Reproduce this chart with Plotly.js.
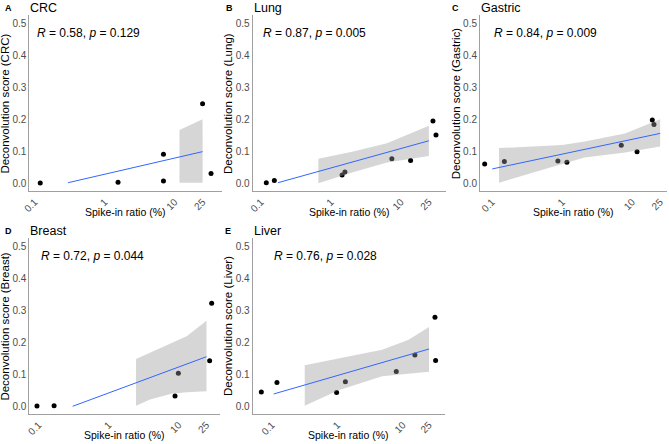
<!DOCTYPE html>
<html>
<head>
<meta charset="utf-8">
<script src="https://cdn.plot.ly/plotly-3.0.1.min.js"></script>
<style>
  html, body { margin: 0; padding: 0; background: #fff; }
  #chart { width: 669px; height: 444px; }
</style>
</head>
<body>
<div id="chart"></div>
<script>
// Spike-in ratio (%) vs deconvolution score, per cancer type
const cancerTypes = ['CRC', 'Lung', 'Gastric', 'Breast', 'Liver'];
const panelLetters = ['A', 'B', 'C', 'D', 'E'];
const statR = ['0.58', '0.87', '0.84', '0.72', '0.76'];
const statP = ['0.129', '0.005', '0.009', '0.044', '0.028'];

const crcX = [0.12, 1.55, 6.9, 6.9, 25, 33];
const crcY = [0.001, 0.003, 0.091, 0.007, 0.249, 0.031];
const crcFitX = [0.3, 25];
const crcFitY = [0.002, 0.099];
const crcBandX = [11.7, 25];
const crcBandHi = [0.167, 0.200];
const crcBandLo = [0.002, 0.002];

const lungX = [0.119, 0.155, 1.44, 1.58, 7.4, 13.7, 28.6, 31.6];
const lungY = [0.002, 0.009, 0.026, 0.035, 0.077, 0.071, 0.195, 0.151];
const lungFitX = [0.175, 25];
const lungFitY = [0.002, 0.133];
const lungBandX = [0.66, 2, 6.3, 25];
const lungBandHi = [0.077, 0.099, 0.125, 0.180];
const lungBandLo = [0.0, 0.034, 0.065, 0.085];

const gastricX = [0.0786, 0.15, 0.87, 1.17, 6.97, 11.7, 19.3, 20.4];
const gastricY = [0.060, 0.068, 0.070, 0.066, 0.119, 0.099, 0.198, 0.184];
const gastricFitX = [0.101, 25];
const gastricFitY = [0.045, 0.156];
const gastricBandX = [0.126, 1, 2.1, 7.9, 25];
const gastricBandHi = [0.110, 0.120, 0.131, 0.156, 0.200];
const gastricBandLo = [0.002, 0.060, 0.081, 0.096, 0.115];

const breastX = [0.0946, 0.166, 8.87, 9.9, 27.7, 29.6];
const breastY = [0.001, 0.002, 0.032, 0.103, 0.142, 0.322];
const breastFitX = [0.306, 25];
const breastFitY = [0.0, 0.155];
const breastBandX = [2.46, 3.9, 7.9, 13.0, 25];
const breastBandHi = [0.148, 0.167, 0.198, 0.219, 0.267];
const breastBandLo = [0.002, 0.021, 0.039, 0.044, 0.047];

const liverX = [0.0687, 0.119, 0.97, 1.32, 7.9, 15.2, 30.8, 31.5];
const liverY = [0.045, 0.074, 0.043, 0.077, 0.109, 0.160, 0.278, 0.143];
const liverFitX = [0.106, 25];
const liverFitY = [0.0385, 0.179];
const liverBandX = [0.316, 1.04, 4.8, 12.2, 25];
const liverBandHi = [0.128, 0.150, 0.177, 0.208, 0.248];
const liverBandLo = [0.002, 0.050, 0.094, 0.101, 0.108];

const xTickVals = [0.1, 1, 10, 25];
const xTickText = ['0.1', '1', '10', '25'];
const yTickVals = [0, 0.1, 0.2, 0.3, 0.4, 0.5];
const statX = 0.1;
const statY = 0.47;

const series = [
    { x: crcX, y: crcY, fx: crcFitX, fy: crcFitY, bx: crcBandX, hi: crcBandHi, lo: crcBandLo },
    { x: lungX, y: lungY, fx: lungFitX, fy: lungFitY, bx: lungBandX, hi: lungBandHi, lo: lungBandLo },
    { x: gastricX, y: gastricY, fx: gastricFitX, fy: gastricFitY, bx: gastricBandX, hi: gastricBandHi, lo: gastricBandLo },
    { x: breastX, y: breastY, fx: breastFitX, fy: breastFitY, bx: breastBandX, hi: breastBandHi, lo: breastBandLo },
    { x: liverX, y: liverY, fx: liverFitX, fy: liverFitY, bx: liverBandX, hi: liverBandHi, lo: liverBandLo }
];

// panel geometry (paper fractions) and log10 x ranges
const xDomains = [[0.0438, 0.3314], [0.3777, 0.6667], [0.7175, 0.9975], [0.0438, 0.3288], [0.3777, 0.6647]];
const yDomains = [[0.5691, 0.9655], [0.5691, 0.9655], [0.5691, 0.9655], [0.0669, 0.4633], [0.0669, 0.4633]];
const xRanges = [[-1.077, 1.671], [-1.119, 1.643], [-1.171, 1.5], [-1.134, 1.59], [-1.295, 1.637]];
const letterX = [3, 224, 450, 3, 223];

const W = 669, H = 444;
const FONT = 'Arial, "Liberation Sans", sans-serif';

const traces = [];
const layout = {
    width: W,
    height: H,
    margin: { l: 0, r: 0, t: 0, b: 0 },
    paper_bgcolor: '#fff',
    plot_bgcolor: '#fff',
    showlegend: false,
    font: { family: FONT, color: '#000' },
    annotations: []
};

series.forEach((s, i) => {
    const n = i === 0 ? '' : String(i + 1);
    const xa = 'x' + n, ya = 'y' + n;

    traces.push({
        type: 'scatter', mode: 'markers', xaxis: xa, yaxis: ya,
        x: s.x, y: s.y,
        marker: { color: '#000', size: 5 },
        hoverinfo: 'x+y'
    });
    // confidence band drawn over the points, as ggplot does
    traces.push({
        type: 'scatter', mode: 'lines', xaxis: xa, yaxis: ya,
        x: s.bx.concat(s.bx.slice().reverse()),
        y: s.hi.concat(s.lo.slice().reverse()),
        fill: 'toself',
        fillcolor: 'rgba(153,153,153,0.4)',
        line: { width: 0 },
        hoverinfo: 'skip'
    });
    traces.push({
        type: 'scatter', mode: 'lines', xaxis: xa, yaxis: ya,
        x: s.fx, y: s.fy,
        line: { color: '#3366FF', width: 1 },
        hoverinfo: 'skip'
    });

    layout['xaxis' + n] = {
        type: 'log',
        domain: xDomains[i],
        range: xRanges[i],
        anchor: ya,
        tickvals: xTickVals,
        ticktext: xTickText,
        tickangle: -45,
        ticks: '',
        tickfont: { size: 10, color: '#4d4d4d' },
        showgrid: false,
        zeroline: false,
        showline: true,
        linecolor: '#a0a0a0',
        linewidth: 1
    };
    layout['yaxis' + n] = {
        domain: yDomains[i],
        range: [-0.025, 0.525],
        anchor: xa,
        tickvals: yTickVals,
        tickformat: '.1f',
        ticks: '',
        tickfont: { size: 10, color: '#4d4d4d' },
        showgrid: false,
        zeroline: false,
        showline: true,
        linecolor: '#a0a0a0',
        linewidth: 1
    };

    const top = (1 - yDomains[i][1]) * H;
    const bottom = (1 - yDomains[i][0]) * H;
    const left = xDomains[i][0] * W;
    const right = xDomains[i][1] * W;

    // panel letter and title
    layout.annotations.push({
        xref: 'paper', yref: 'paper', x: letterX[i] / W, y: 1 - (top - 7) / H,
        xanchor: 'left', yanchor: 'middle', showarrow: false,
        text: '<b>' + panelLetters[i] + '</b>', font: { size: 9, color: '#000' }
    });
    layout.annotations.push({
        xref: 'paper', yref: 'paper', x: (left - 1) / W, y: 1 - (top - 7.5) / H,
        xanchor: 'left', yanchor: 'middle', showarrow: false,
        text: cancerTypes[i], font: { size: 12.5, color: '#000' }
    });
    // correlation label
    layout.annotations.push({
        xref: xa, yref: ya, x: Math.log10(statX), y: statY,
        xanchor: 'left', yanchor: 'middle', showarrow: false,
        text: '<i>R</i> = ' + statR[i] + ', <i>p</i> = ' + statP[i],
        font: { size: 12, color: '#000' }
    });
    // axis titles
    layout.annotations.push({
        xref: 'paper', yref: 'paper', x: (left + right) / 2 / W, y: 1 - (bottom + 21) / H,
        xanchor: 'center', yanchor: 'middle', showarrow: false,
        text: 'Spike-in ratio (%)', font: { size: 10.5, color: '#000' }
    });
    layout.annotations.push({
        xref: 'paper', yref: 'paper', x: (left - 24) / W, y: 1 - (top + bottom) / 2 / H,
        xanchor: 'center', yanchor: 'middle', showarrow: false, textangle: -90,
        text: 'Deconvolution score (' + cancerTypes[i] + ')', font: { size: 11.5, color: '#000' }
    });
});

Plotly.newPlot('chart', traces, layout, { staticPlot: true, displayModeBar: false });
</script>
</body>
</html>
